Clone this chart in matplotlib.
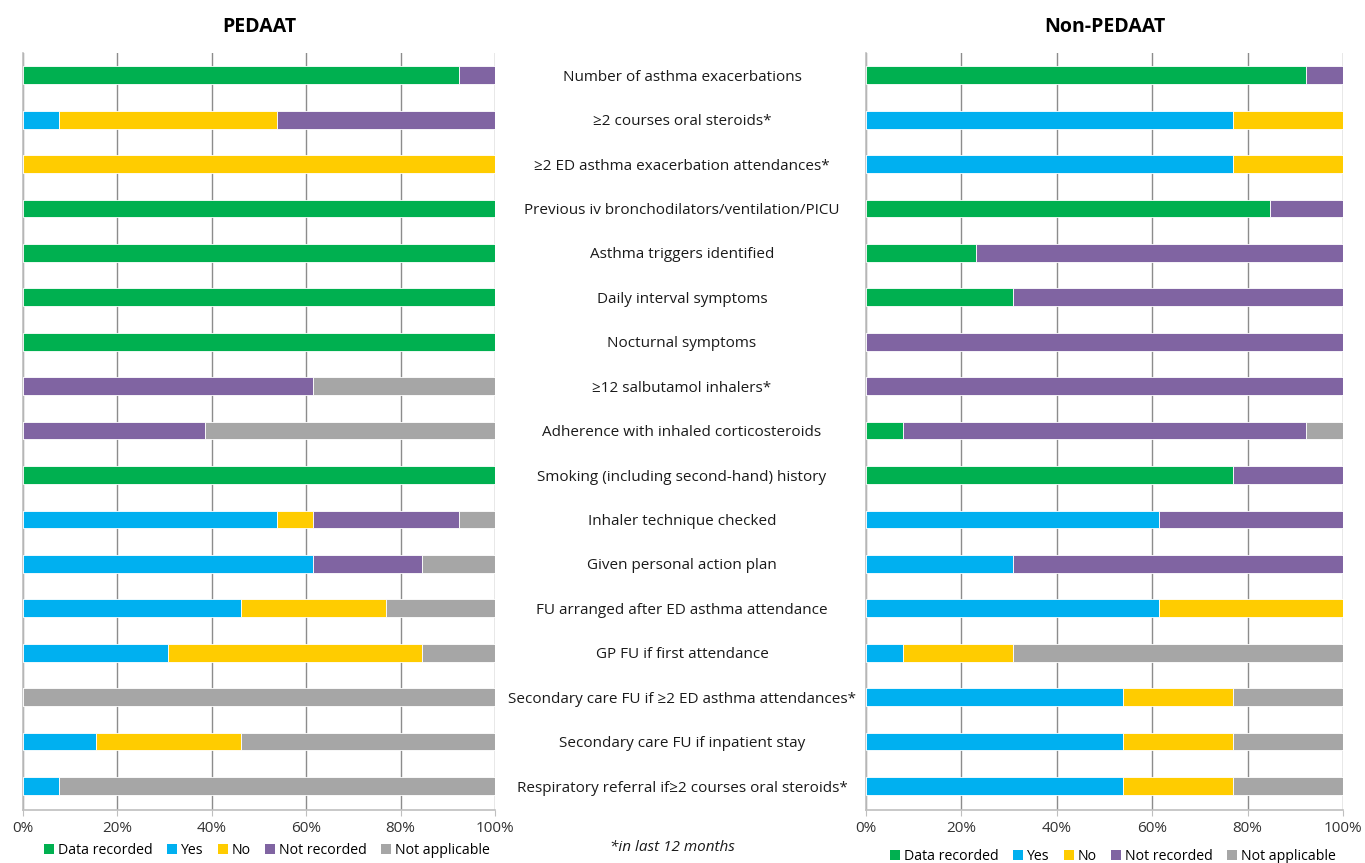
import matplotlib
matplotlib.use("Agg")
import matplotlib.pyplot as plt
from matplotlib.patches import Patch
from matplotlib.ticker import FuncFormatter

plt.rcParams['font.family'] = ['Open Sans', 'DejaVu Sans']

items = [
    "Number of asthma exacerbations",
    "\u22652 courses oral steroids*",
    "\u22652 ED asthma exacerbation attendances*",
    "Previous iv bronchodilators/ventilation/PICU",
    "Asthma triggers identified",
    "Daily interval symptoms",
    "Nocturnal symptoms",
    "\u226512 salbutamol inhalers*",
    "Adherence with inhaled corticosteroids",
    "Smoking (including second-hand) history",
    "Inhaler technique checked",
    "Given personal action plan",
    "FU arranged after ED asthma attendance",
    "GP FU if first attendance",
    "Secondary care FU if \u22652 ED asthma attendances*",
    "Secondary care FU if inpatient stay",
    "Respiratory referral if\u22652 courses oral steroids*",
]

categories = ["Data recorded", "Yes", "No", "Not recorded", "Not applicable"]
colors = ["#00B050", "#00B0F0", "#FFCC00", "#8064A2", "#A6A6A6"]

# PEDAAT (% of notes)
ped_data_recorded = [92.3, 0, 0, 100, 100, 100, 100, 0, 0, 100, 0, 0, 0, 0, 0, 0, 0]
ped_yes = [0, 7.7, 0, 0, 0, 0, 0, 0, 0, 0, 53.8, 61.5, 46.2, 30.8, 0, 15.4, 7.7]
ped_no = [0, 46.2, 100, 0, 0, 0, 0, 0, 0, 0, 7.7, 0, 30.8, 53.8, 0, 30.8, 0]
ped_not_recorded = [7.7, 46.2, 0, 0, 0, 0, 0, 61.5, 38.5, 0, 30.8, 23.1, 0, 0, 0, 0, 0]
ped_not_applicable = [0, 0, 0, 0, 0, 0, 0, 38.5, 61.5, 0, 7.7, 15.4, 23.1, 15.4, 100, 53.8, 92.3]

# Non-PEDAAT (% of notes)
non_data_recorded = [92.3, 0, 0, 84.6, 23.1, 30.8, 0, 0, 7.7, 76.9, 0, 0, 0, 0, 0, 0, 0]
non_yes = [0, 76.9, 76.9, 0, 0, 0, 0, 0, 0, 0, 61.5, 30.8, 61.5, 7.7, 53.8, 53.8, 53.8]
non_no = [0, 23.1, 23.1, 0, 0, 0, 0, 0, 0, 0, 0, 0, 38.5, 23.1, 23.1, 23.1, 23.1]
non_not_recorded = [7.7, 0, 0, 15.4, 76.9, 69.2, 100, 100, 84.6, 23.1, 38.5, 69.2, 0, 0, 0, 0, 0]
non_not_applicable = [0, 0, 0, 0, 0, 0, 0, 0, 7.7, 0, 0, 0, 0, 69.2, 23.1, 23.1, 23.1]

ped_series = [ped_data_recorded, ped_yes, ped_no, ped_not_recorded, ped_not_applicable]
non_series = [non_data_recorded, non_yes, non_no, non_not_recorded, non_not_applicable]

W, H = 1365, 863
fig = plt.figure(figsize=(W / 100, H / 100), dpi=100)
ax_l = fig.add_axes([23 / W, 1 - 810 / H, 472 / W, 757 / H])
ax_r = fig.add_axes([866 / W, 1 - 810 / H, 477 / W, 757 / H])

ypos = list(range(len(items)))


def draw_panel(ax, series, title, legend_xy):
    left = [0.0] * len(items)
    for vals, col in zip(series, colors):
        ax.barh(ypos, vals, left=left, height=0.4, color=col,
                edgecolor="white", linewidth=0.6, zorder=3)
        left = [a + b for a, b in zip(left, vals)]
    ax.set_xlim(0, 100)
    ax.set_ylim(len(items) - 0.46, -0.5)
    ax.set_xticks([0, 20, 40, 60, 80, 100])
    ax.xaxis.set_major_formatter(FuncFormatter(lambda v, p: f"{int(v)}%"))
    ax.set_yticks([])
    ax.grid(axis="x", color="#8C8C8C", linewidth=1.0, zorder=0)
    for s in ["top", "right"]:
        ax.spines[s].set_visible(False)
    ax.spines["left"].set_color("#BFBFBF")
    ax.spines["bottom"].set_color("#BFBFBF")
    ax.spines["left"].set_linewidth(1.2)
    ax.spines["bottom"].set_linewidth(1.2)
    ax.tick_params(axis="x", length=4, color="#BFBFBF", labelsize=11,
                   labelcolor="#333333", pad=4)
    ax.set_title(title, fontsize=14, fontweight="bold", pad=15)
    handles = [Patch(facecolor=c, label=l) for c, l in zip(colors, categories)]
    fig.legend(handles=handles, loc="center",
               bbox_to_anchor=(legend_xy[0] / W, 1 - legend_xy[1] / H),
               bbox_transform=fig.transFigure,
               ncol=5, frameon=False, fontsize=10.2, handlelength=0.7,
               handleheight=0.7, handletextpad=0.3, columnspacing=1.0,
               borderaxespad=0, borderpad=0)


draw_panel(ax_l, ped_series, "PEDAAT", (267, 850))
draw_panel(ax_r, non_series, "Non-PEDAAT", (1113, 856))

# Item labels centred between the two panels
for i, label in enumerate(items):
    y_disp = ax_l.transData.transform((0, i))[1] - 2
    y_fig = fig.transFigure.inverted().transform((0, y_disp))[1]
    fig.text(0.4996, y_fig, label, ha="center", va="center", fontsize=11,
             color="#1a1a1a")

fig.text(0.4925, 1 - 847 / H, "*in last 12 months", ha="center", va="center",
         fontsize=11, style="italic", color="#1a1a1a")

fig.savefig("out.png", dpi=100)
